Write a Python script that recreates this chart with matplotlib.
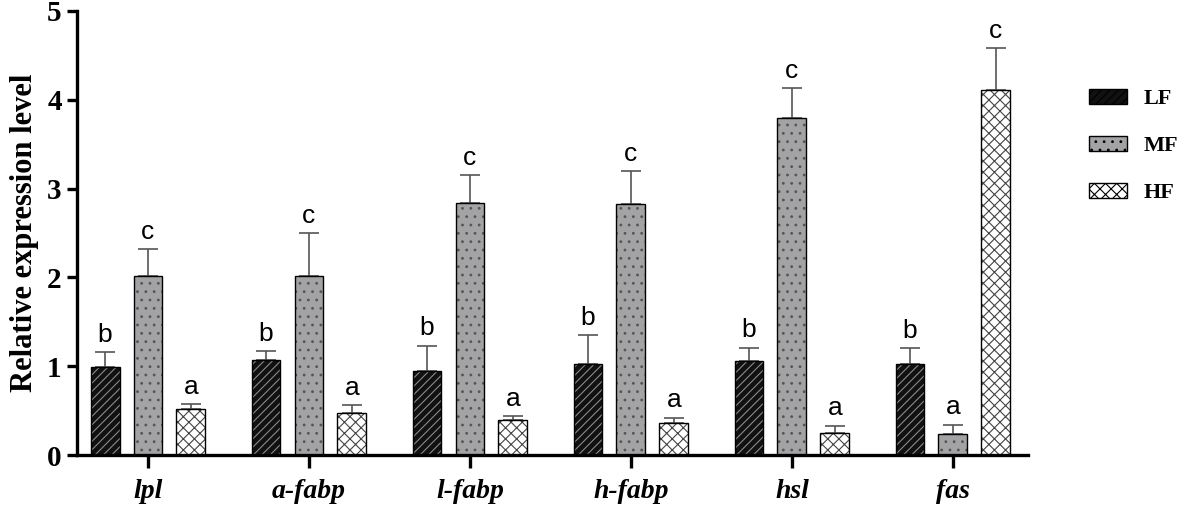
import numpy as np
import matplotlib.pyplot as plt
from matplotlib.patches import Patch

genes = ['lpl', 'a-fabp', 'l-fabp', 'h-fabp', 'hsl', 'fas']
groups = ['LF', 'MF', 'HF']

lf_mean = [0.99, 1.07, 0.95, 1.03, 1.06, 1.03]
lf_err = [0.17, 0.10, 0.28, 0.32, 0.15, 0.17]
mf_mean = [2.02, 2.02, 2.84, 2.83, 3.80, 0.24]
mf_err = [0.30, 0.48, 0.31, 0.37, 0.33, 0.10]
hf_mean = [0.52, 0.47, 0.39, 0.36, 0.25, 4.11]
hf_err = [0.05, 0.09, 0.05, 0.06, 0.08, 0.47]

lf_sig = ['b', 'b', 'b', 'b', 'b', 'b']
mf_sig = ['c', 'c', 'c', 'c', 'c', 'a']
hf_sig = ['a', 'a', 'a', 'a', 'a', 'c']

means = [lf_mean, mf_mean, hf_mean]
errs = [lf_err, mf_err, hf_err]
sigs = [lf_sig, mf_sig, hf_sig]

face = ['#111111', '#a3a3a6', 'white']
hcol = ['#8a8a8a', '#555555', '#444444']
hatches = ['////', '..', 'xxx']

plt.rcParams['hatch.linewidth'] = 0.8
serif = ['Liberation Serif', 'DejaVu Serif']

fig = plt.figure(figsize=(11.81, 5.08), dpi=100)
ax = fig.add_axes([77/1181, 53/508, (1028-77)/1181, (455-11)/508])

x = np.arange(len(genes))
w = 0.18
off = 0.267

for i in range(3):
    pos = x + (i - 1) * off
    ax.bar(pos, means[i], w, color=face[i], edgecolor=hcol[i], hatch=hatches[i], linewidth=0, zorder=2)
    ax.bar(pos, means[i], w, fill=False, edgecolor='black', linewidth=1.0, zorder=3)
    ax.errorbar(pos, means[i], yerr=[np.zeros(len(genes)), errs[i]], fmt='none',
                ecolor='#555555', elinewidth=1.2, capsize=7, capthick=1.2, zorder=1)
    for p, m, e, s in zip(pos, means[i], errs[i], sigs[i]):
        ax.text(p, m + e + 0.06, s, ha='center', va='bottom', fontsize=19,
                family=['Liberation Sans', 'DejaVu Sans'])

ax.set_xlim(-0.441, 5.466)
ax.set_ylim(0, 5)
ax.set_yticks([0, 1, 2, 3, 4, 5])
ax.set_xticks(x)
ax.set_xticklabels(genes, fontstyle='italic', fontweight='bold', fontsize=20, family=serif)
for lab in ax.get_yticklabels():
    lab.set_fontweight('bold')
    lab.set_fontsize(21)
    lab.set_family(serif)
ax.set_ylabel('Relative expression level', fontweight='bold', fontsize=22, family=serif, labelpad=6)

for s in ['top', 'right']:
    ax.spines[s].set_visible(False)
for s in ['left', 'bottom']:
    ax.spines[s].set_linewidth(2.4)
ax.tick_params(axis='y', length=7, width=2.4, pad=4)
ax.tick_params(axis='x', length=9, width=2.4, pad=8)

handles = [Patch(facecolor=face[i], edgecolor='black', hatch=hatches[i], linewidth=1.0) for i in range(3)]
leg = fig.legend(handles, groups, loc='upper left', bbox_to_anchor=(1069/1181, 1 - 69/508),
                 frameon=False, handlelength=1.7, handleheight=0.65, labelspacing=1.2,
                 handletextpad=0.75,
                 prop={'family': serif, 'weight': 'bold', 'size': 16})

fig.savefig('out.png', dpi=100)
